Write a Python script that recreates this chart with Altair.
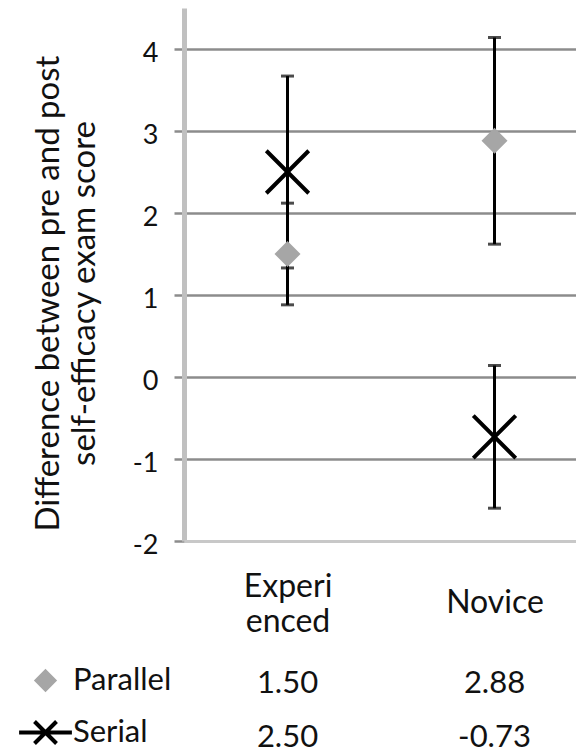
import json
import altair as alt
import pandas as pd

# ---- data ----
categories = ["Experienced", "Novice"]
category_lines = [["Experi", "enced"], ["Novice"]]
series = ["Parallel", "Serial"]
parallel_values = [1.50, 2.88]
parallel_errors = [0.62, 1.26]
serial_values = [2.50, -0.73]
serial_errors = [1.17, 0.87]
y_ticks = [-2, -1, 0, 1, 2, 3, 4]
y_title = ["Difference between pre and post", "self-efficacy exam score"]

rows = []
for s, vals, errs in [("Parallel", parallel_values, parallel_errors),
                      ("Serial", serial_values, serial_errors)]:
    for c, v, e in zip(categories, vals, errs):
        rows.append({"category": c, "series": s, "value": v,
                     "low": v - e, "high": v + e, "label": f"{v:.2f}"})
df = pd.DataFrame(rows)

FONT = "Lato"
INK = "#111111"
GRID = "#8c8c8c"
GRAY = "#a6a6a6"
X_PATH = "M-1,-1L1,1M-1,1L1,-1"
X_LEGEND = "M-1,-1L1,1M-1,1L1,-1M-2.4,0L2.4,0"
DIAMOND_LEGEND = "M0,-0.8L0.8,0L0,0.8L-0.8,0Z"

W = 392
H = 533
LINE_H = 35

label_expr = " : ".join(
    f"datum.label == '{c}' ? {json.dumps(l)}" for c, l in zip(categories, category_lines)
) + " : datum.label"
multi_line = [c for c, l in zip(categories, category_lines) if len(l) > 1]

x_scale = alt.Scale(type="point", domain=categories, padding=0.4469, align=0.5595)
y_scale = alt.Scale(domain=[-2, 4.5], nice=False, zero=False)

x_axis = alt.Axis(title=None, ticks=False, labelAngle=0, labelExpr=label_expr,
                  labelFont=FONT, labelFontSize=32, labelColor=INK,
                  labelLineHeight=LINE_H, labelBaseline="middle",
                  labelPadding={"condition": {"test": f"indexof({json.dumps(multi_line)}, datum.value) >= 0",
                                              "value": 63 - LINE_H / 2},
                                "value": 61},
                  domainColor="#c8c8c8", domainWidth=3, grid=False, zindex=1)
y_axis = alt.Axis(values=y_ticks, labelExpr="'' + datum.value",
                  labelFont=FONT, labelFontSize=27, labelColor=INK,
                  labelPadding=16, labelOffset=4,
                  tickSize=10, tickColor=GRID, tickWidth=2.5,
                  grid=True, gridColor=GRID, gridWidth=2.5,
                  domainColor="#c0c0c0", domainWidth=5,
                  title=y_title, titleFont=FONT, titleFontSize=33,
                  titleFontWeight="normal", titleColor=INK,
                  titleLineHeight=36, titlePadding=31, titleY=285)

base = alt.Chart(df).encode(x=alt.X("category:N", scale=x_scale, axis=x_axis))

bars = base.mark_rule(color="black", strokeWidth=3).encode(
    y=alt.Y("low:Q", scale=y_scale, axis=y_axis), y2="high:Q")
caps_low = base.mark_tick(color="black", thickness=3, size=13).encode(y="low:Q")
caps_high = base.mark_tick(color="black", thickness=3, size=13).encode(y="high:Q")

diamonds = base.transform_filter(alt.datum.series == "Parallel").mark_point(
    shape="diamond", filled=True, color=GRAY, size=676, opacity=1).encode(y="value:Q")
crosses = base.transform_filter(alt.datum.series == "Serial").mark_point(
    shape=X_PATH, filled=False, stroke="black", strokeWidth=4, size=1800,
    opacity=1).encode(y="value:Q")

legend = alt.Legend(title=None, orient="none", legendX=-154, legendY=657,
                    direction="vertical", labelFont=FONT, labelFontSize=31,
                    labelColor=INK, symbolSize=484, symbolStrokeWidth=4,
                    labelOffset=12, rowPadding=15, symbolOpacity=1)
legend_layer = base.transform_filter("false").mark_point(
    filled=True, size=484, strokeWidth=4, opacity=1).encode(
    y="value:Q",
    shape=alt.Shape("series:N", scale=alt.Scale(domain=series, range=[DIAMOND_LEGEND, X_LEGEND]), legend=legend),
    color=alt.Color("series:N", scale=alt.Scale(domain=series, range=[GRAY, "black"]), legend=legend),
    stroke=alt.Stroke("series:N", scale=alt.Scale(domain=series, range=[GRAY, "black"]), legend=legend),
)

top = alt.layer(bars, caps_low, caps_high, diamonds, crosses, legend_layer).properties(width=W, height=H)

table = alt.Chart(df).mark_text(font=FONT, fontSize=31, color=INK, baseline="middle").encode(
    x=alt.X("category:N", scale=x_scale, axis=None),
    y=alt.Y("series:N", scale=alt.Scale(type="point", domain=series, range=[28, 82], padding=0), axis=None),
    text="label:N",
).properties(width=W, height=88)

chart = alt.vconcat(top, table, spacing=18).properties(
    padding={"left": 22, "top": 0, "right": 0, "bottom": 0}
).configure_view(strokeWidth=0)

chart.save("out.html", embed_options={"renderer": "svg", "actions": False})
